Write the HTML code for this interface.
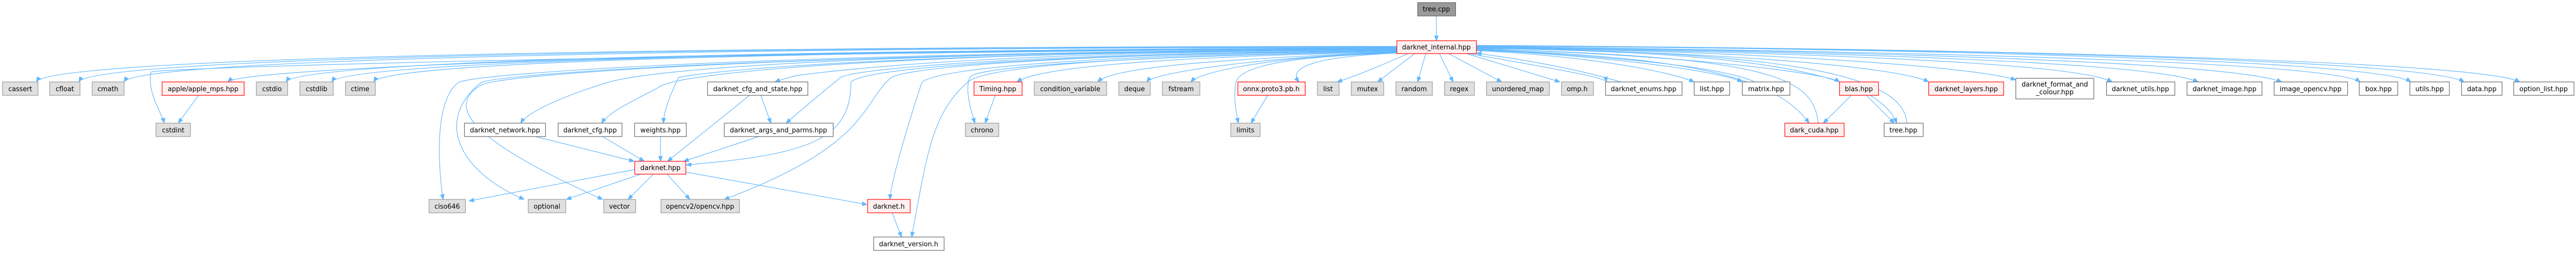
<!DOCTYPE html>
<html><head><meta charset="utf-8"><style>
html,body{margin:0;padding:0;background:#fff;width:100%;height:100%;overflow:hidden;}
svg{display:block;width:100vw;height:100vh;}
text{font-family:"DejaVu Sans","Liberation Sans",sans-serif;font-size:13px;fill:#000;text-anchor:middle;}
.g{fill:#e0e0e0;stroke:#999;stroke-width:1.2}
.w{fill:#fff;stroke:#666;stroke-width:1.2}
.r{fill:#fff0f0;stroke:#f00;stroke-width:1.2}
.d{fill:#999;stroke:#666;stroke-width:1.2}
path.e{fill:none;stroke:#63b8ff;stroke-width:1.2;marker-end:url(#a)}
</style></head><body>
<svg viewBox="0 0 5086 491" preserveAspectRatio="none" xmlns="http://www.w3.org/2000/svg">
<defs><marker id="a" markerWidth="10" markerHeight="8" refX="10" refY="4" orient="auto" markerUnits="userSpaceOnUse"><path d="M0,0 L10,4 L0,8 z" fill="#63b8ff" stroke="#63b8ff"/></marker></defs>

<path class="e" d="M2836 31 L2836 79"/>
<path class="e" d="M2758 90 C1400 90 100 110 72 159"/>
<path class="e" d="M2758 91 C1400 91 180 112 156 159"/>
<path class="e" d="M2758 92 C1400 92 270 115 245 159"/>
<path class="e" d="M2758 93 C1500 95 480 130 450 159"/>
<path class="e" d="M2758 94 C1500 96 590 120 565 159"/>
<path class="e" d="M2758 94 C1600 97 680 120 655 159"/>
<path class="e" d="M2758 95 C1600 98 760 120 738 159"/>
<path class="e" d="M2758 95 C1500 100 320 130 298 140 C290 180 320 220 324 239"/>
<path class="e" d="M392 185 L352 239"/>
<path class="e" d="M2758 96 C1800 100 1300 130 1200 160 C1100 190 1040 220 1028 239"/>
<path class="e" d="M2758 96 C1800 100 1330 140 1300 170 C1240 200 1200 220 1188 239"/>
<path class="e" d="M2758 97 C1900 100 1450 130 1340 150 C1320 190 1310 220 1310 239"/>
<path class="e" d="M2758 97 C2000 100 1700 130 1570 147 C1560 150 1540 155 1530 159"/>
<path class="e" d="M2758 98 C2100 102 1700 130 1660 150 C1610 190 1580 215 1552 239"/>
<path class="e" d="M2758 98 C2100 105 1700 130 1680 160 C1680 270 1600 300 1355 320"/>
<path class="e" d="M2758 96 C1600 100 950 140 905 160 C850 200 870 360 875 387"/>
<path class="e" d="M2758 97 C1700 100 1000 140 950 160 C860 230 900 330 1035 387"/>
<path class="e" d="M2758 97 C1700 100 1000 140 950 165 C890 200 900 260 1190 387"/>
<path class="e" d="M2758 98 C2100 105 1800 130 1760 150 C1700 200 1720 280 1430 387"/>
<path class="e" d="M2758 99 C2200 105 1850 130 1820 160 C1790 250 1760 350 1757 387"/>
<path class="e" d="M2758 100 C2200 108 1940 130 1910 160 C1840 220 1830 300 1800 460"/>
<path class="e" d="M2758 100 C2200 110 1925 130 1915 150 C1905 170 1915 210 1925 239"/>
<path class="e" d="M2758 101 C2300 110 2050 130 2008 159"/>
<path class="e" d="M2758 101 C2400 115 2200 130 2167 159"/>
<path class="e" d="M2758 102 C2500 110 2280 140 2264 159"/>
<path class="e" d="M2758 102 C2500 110 2370 140 2351 159"/>
<path class="e" d="M2758 103 C2600 110 2540 130 2565 159"/>
<path class="e" d="M2758 103 C2600 108 2450 120 2440 160 C2435 190 2440 215 2445 239"/>
<path class="e" d="M1057 265 L1252 313"/>
<path class="e" d="M1190 265 L1272 313"/>
<path class="e" d="M1304 265 L1304 313"/>
<path class="e" d="M1480 185 L1318 313"/>
<path class="e" d="M1502 185 L1522 239"/>
<path class="e" d="M1498 265 L1350 313"/>
<path class="e" d="M1253 329 L926 390"/>
<path class="e" d="M1265 338 L1118 387"/>
<path class="e" d="M1290 338 L1240 387"/>
<path class="e" d="M1317 338 L1362 387"/>
<path class="e" d="M1354 334 L1712 397"/>
<path class="e" d="M1761 412 L1780 460"/>
<path class="e" d="M1965 185 L1945 239"/>
<path class="e" d="M2503 185 L2470 239"/>
<path class="e" d="M2780 104 C2720 130 2670 150 2640 159"/>
<path class="e" d="M2793 104 L2720 159"/>
<path class="e" d="M2815 104 L2799 159"/>
<path class="e" d="M2842 104 L2869 159"/>
<path class="e" d="M2860 104 L2965 159"/>
<path class="e" d="M2895 104 L3080 159"/>
<path class="e" d="M2900 104 C3050 130 3170 150 3172 159"/>
<path class="e" d="M3200 159 C3100 130 3000 115 2915 103"/>
<path class="e" d="M2915 98 C3150 110 3300 140 3345 159"/>
<path class="e" d="M2915 97 C3200 110 3400 140 3440 159"/>
<path class="e" d="M3465 159 C3400 130 3200 110 2915 96"/>
<path class="e" d="M2915 96 C3300 110 3500 140 3572 239"/>
<path class="e" d="M3590 239 C3580 150 3500 110 2915 95"/>
<path class="e" d="M2915 95 C3300 105 3600 140 3632 159"/>
<path class="e" d="M3655 185 L3600 239"/>
<path class="e" d="M3685 185 L3740 239"/>
<path class="e" d="M2915 94 C3400 100 3700 130 3745 239"/>
<path class="e" d="M3765 239 C3760 140 3500 100 2915 93"/>
<path class="e" d="M2915 93 C3400 100 3750 130 3808 159"/>
<path class="e" d="M2915 92 C3500 100 3900 130 3980 155"/>
<path class="e" d="M2915 92 C3500 100 4100 120 4170 159"/>
<path class="e" d="M2915 91 C3600 100 4250 120 4340 159"/>
<path class="e" d="M2915 90 C3700 100 4400 120 4505 159"/>
<path class="e" d="M2915 90 C3800 100 4600 120 4660 159"/>
<path class="e" d="M2915 89 C3900 95 4700 120 4760 159"/>
<path class="e" d="M2915 89 C4000 95 4800 120 4865 159"/>
<path class="e" d="M2915 88 C4000 95 4900 120 4975 159"/>

<rect class="d" x="2799" y="5" width="75" height="26"/><text x="2836" y="22">tree.cpp</text>
<rect class="r" x="2758" y="79" width="157" height="25"/><text x="2836" y="96">darknet_internal.hpp</text>

<rect class="g" x="5" y="159" width="70" height="26"/><text x="40" y="177">cassert</text>
<rect class="g" x="98" y="159" width="60" height="26"/><text x="128" y="177">cfloat</text>
<rect class="g" x="182" y="159" width="63" height="26"/><text x="213" y="177">cmath</text>
<rect class="r" x="320" y="159" width="162" height="26"/><text x="401" y="177">apple/apple_mps.hpp</text>
<rect class="g" x="506" y="159" width="62" height="26"/><text x="537" y="177">cstdio</text>
<rect class="g" x="592" y="159" width="66" height="26"/><text x="625" y="177">cstdlib</text>
<rect class="g" x="682" y="159" width="59" height="26"/><text x="711" y="177">ctime</text>
<rect class="w" x="1397" y="159" width="198" height="26"/><text x="1496" y="177">darknet_cfg_and_state.hpp</text>
<rect class="r" x="1923" y="159" width="95" height="26"/><text x="1970" y="177">Timing.hpp</text>
<rect class="g" x="2042" y="159" width="143" height="26"/><text x="2113" y="177">condition_variable</text>
<rect class="g" x="2209" y="159" width="62" height="26"/><text x="2240" y="177">deque</text>
<rect class="g" x="2295" y="159" width="74" height="26"/><text x="2332" y="177">fstream</text>
<rect class="r" x="2444" y="159" width="133" height="26"/><text x="2510" y="177">onnx.proto3.pb.h</text>
<rect class="g" x="2601" y="159" width="43" height="26"/><text x="2622" y="177">list</text>
<rect class="g" x="2668" y="159" width="64" height="26"/><text x="2700" y="177">mutex</text>
<rect class="g" x="2756" y="159" width="72" height="26"/><text x="2792" y="177">random</text>
<rect class="g" x="2852" y="159" width="59" height="26"/><text x="2881" y="177">regex</text>
<rect class="g" x="2935" y="159" width="124" height="26"/><text x="2997" y="177">unordered_map</text>
<rect class="g" x="3083" y="159" width="63" height="26"/><text x="3114" y="177">omp.h</text>
<rect class="w" x="3170" y="159" width="151" height="26"/><text x="3245" y="177">darknet_enums.hpp</text>
<rect class="w" x="3345" y="159" width="70" height="26"/><text x="3380" y="177">list.hpp</text>
<rect class="w" x="3440" y="159" width="94" height="26"/><text x="3487" y="177">matrix.hpp</text>
<rect class="r" x="3632" y="159" width="77" height="26"/><text x="3670" y="177">blas.hpp</text>
<rect class="r" x="3808" y="159" width="148" height="26"/><text x="3882" y="177">darknet_layers.hpp</text>
<rect class="w" x="3980" y="152" width="154" height="40"/><text x="4057" y="168">darknet_format_and</text><text x="4057" y="183">_colour.hpp</text>
<rect class="w" x="4159" y="159" width="135" height="26"/><text x="4226" y="177">darknet_utils.hpp</text>
<rect class="w" x="4318" y="159" width="148" height="26"/><text x="4392" y="177">darknet_image.hpp</text>
<rect class="w" x="4490" y="159" width="145" height="26"/><text x="4562" y="177">image_opencv.hpp</text>
<rect class="w" x="4658" y="159" width="76" height="26"/><text x="4696" y="177">box.hpp</text>
<rect class="w" x="4758" y="159" width="78" height="26"/><text x="4797" y="177">utils.hpp</text>
<rect class="w" x="4860" y="159" width="80" height="26"/><text x="4900" y="177">data.hpp</text>
<rect class="w" x="4963" y="159" width="119" height="26"/><text x="5022" y="177">option_list.hpp</text>

<rect class="g" x="308" y="239" width="68" height="26"/><text x="342" y="257">cstdint</text>
<rect class="w" x="917" y="239" width="160" height="26"/><text x="997" y="257">darknet_network.hpp</text>
<rect class="w" x="1102" y="239" width="126" height="26"/><text x="1165" y="257">darknet_cfg.hpp</text>
<rect class="w" x="1253" y="239" width="102" height="26"/><text x="1304" y="257">weights.hpp</text>
<rect class="w" x="1430" y="239" width="215" height="26"/><text x="1537" y="257">darknet_args_and_parms.hpp</text>
<rect class="g" x="1906" y="239" width="66" height="26"/><text x="1939" y="257">chrono</text>
<rect class="g" x="2430" y="239" width="58" height="26"/><text x="2459" y="257">limits</text>
<rect class="r" x="3524" y="239" width="117" height="26"/><text x="3582" y="257">dark_cuda.hpp</text>
<rect class="w" x="3720" y="239" width="77" height="26"/><text x="3758" y="257">tree.hpp</text>

<rect class="r" x="1253" y="313" width="101" height="25"/><text x="1304" y="330">darknet.hpp</text>

<rect class="g" x="847" y="387" width="72" height="26"/><text x="883" y="405">ciso646</text>
<rect class="g" x="1043" y="387" width="74" height="26"/><text x="1080" y="405">optional</text>
<rect class="g" x="1192" y="387" width="63" height="26"/><text x="1223" y="405">vector</text>
<rect class="g" x="1305" y="387" width="155" height="26"/><text x="1382" y="405">opencv2/opencv.hpp</text>
<rect class="r" x="1713" y="387" width="84" height="26"/><text x="1755" y="405">darknet.h</text>
<rect class="w" x="1725" y="460" width="139" height="26"/><text x="1794" y="478">darknet_version.h</text>
</svg>
</body></html>
